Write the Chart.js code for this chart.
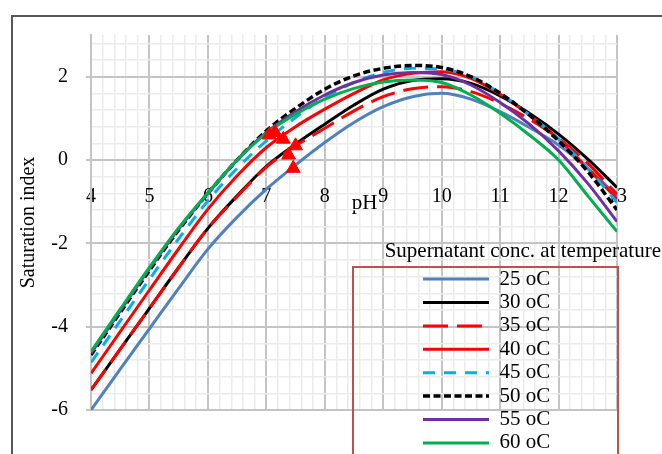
<!DOCTYPE html>
<html>
<head>
<meta charset="utf-8">
<title>Saturation index vs pH</title>
<script src="https://cdn.jsdelivr.net/npm/chart.js@4.4.1/dist/chart.umd.min.js"></script>
<style>
  html, body { margin: 0; padding: 0; background: #fff; overflow: hidden; }
  #wrap { position: relative; width: 662px; height: 454px; overflow: hidden; }
  #frame { position: absolute; left: 11px; top: 15px; width: 700px; height: 500px; border: 2.5px solid #595959; }
  #si-chart { position: absolute; left: 0; top: 0; }
</style>
</head>
<body>
<div id="wrap">
  <div id="frame"></div>
  <canvas id="si-chart" width="662" height="454"></canvas>
</div>
<script>
// pH grid the curves were evaluated on
const phValues = [4, 4.5, 5, 5.5, 6, 6.5, 7, 7.5, 8, 8.5, 9, 9.5, 10, 10.5, 11, 11.5, 12, 12.5, 13];

// saturation index of the supernatant at each temperature
const si25 = [-6.0, -5.02, -4.05, -3.08, -2.14, -1.37, -0.7, -0.12, 0.42, 0.9, 1.28, 1.52, 1.6, 1.46, 1.16, 0.78, 0.36, -0.2, -0.86];
const si30 = [-5.52, -4.54, -3.56, -2.58, -1.64, -0.86, -0.15, 0.38, 0.86, 1.32, 1.7, 1.91, 1.95, 1.84, 1.54, 1.12, 0.62, 0.02, -0.66];
const si35 = [-5.52, -4.54, -3.56, -2.58, -1.64, -0.88, -0.17, 0.34, 0.76, 1.18, 1.52, 1.71, 1.76, 1.64, 1.36, 0.98, 0.52, -0.08, -0.82];
const si40 = [-5.12, -4.12, -3.12, -2.13, -1.18, -0.38, 0.3, 0.8, 1.22, 1.6, 1.92, 2.08, 2.12, 1.96, 1.58, 1.08, 0.5, -0.2, -0.94];
const si45 = [-4.86, -3.86, -2.86, -1.89, -0.98, -0.2, 0.46, 1.02, 1.5, 1.86, 2.1, 2.2, 2.18, 2.0, 1.6, 1.08, 0.5, -0.2, -1.02];
const si50 = [-4.68, -3.66, -2.65, -1.68, -0.8, 0.0, 0.7, 1.24, 1.7, 2.02, 2.2, 2.27, 2.22, 2.0, 1.6, 1.08, 0.46, -0.28, -1.2];
const si55 = [-4.64, -3.62, -2.61, -1.65, -0.8, 0.0, 0.66, 1.16, 1.56, 1.86, 2.04, 2.1, 2.05, 1.8, 1.38, 0.86, 0.22, -0.56, -1.48];
const si60 = [-4.6, -3.58, -2.58, -1.63, -0.79, 0.0, 0.64, 1.1, 1.46, 1.72, 1.87, 1.92, 1.86, 1.56, 1.12, 0.6, 0.0, -0.86, -1.72];

const tempLabels = ["25 oC", "30 oC", "35 oC", "40 oC", "45 oC", "50 oC", "55 oC", "60 oC"];
const siSeries = [si25, si30, si35, si40, si45, si50, si55, si60];

// measured supernatant points (red triangles)
const sampledPH = [7.05, 7.15, 7.29, 7.5, 7.38, 7.46];
const sampledSI = [0.6, 0.66, 0.5, 0.34, 0.12, -0.2];

const lineStyles = [
  { color: "#4F81BD", width: 3, dash: [] },
  { color: "#000000", width: 3, dash: [] },
  { color: "#FF0000", width: 3, dash: [25, 9] },
  { color: "#FF0000", width: 3, dash: [] },
  { color: "#00B0F0", width: 3, dash: [12, 9] },
  { color: "#000000", width: 3.5, dash: [7, 3.5] },
  { color: "#7030A0", width: 3, dash: [] },
  { color: "#00B050", width: 3, dash: [] },
];

const majorGrid = "#C4C4C4";
const minorGrid = "#ECECEC";
const noColor = "rgba(0,0,0,0)";

const isMajorX = (v) => Math.abs(v - Math.round(v)) < 1e-6;
const isMajorY = (v) => Math.abs(v / 2 - Math.round(v / 2)) < 1e-6;

Chart.defaults.font.family = "'Liberation Serif', 'Times New Roman', serif";
Chart.defaults.color = "#000";

const datasets = tempLabels.map((label, i) => ({
  label: label,
  data: phValues.map((ph, j) => ({ x: ph, y: siSeries[i][j] })),
  borderColor: lineStyles[i].color,
  backgroundColor: lineStyles[i].color,
  borderWidth: lineStyles[i].width,
  borderDash: lineStyles[i].dash,
  pointRadius: 0,
  fill: false,
  cubicInterpolationMode: "monotone",
  order: tempLabels.length - i,
}));

datasets.push({
  label: "samples",
  data: sampledPH.map((ph, j) => ({ x: ph, y: sampledSI[j] })),
  showLine: false,
  pointStyle: "triangle",
  pointRadius: 8,
  backgroundColor: "#FF0000",
  borderColor: "#FF0000",
  borderWidth: 1,
  order: 0,
});

// legend entries keep the dash pattern of their line
const legendLabels = (chart) =>
  Chart.defaults.plugins.legend.labels.generateLabels(chart).map((item) => {
    const ds = chart.data.datasets[item.datasetIndex];
    item.lineDash = ds.borderDash;
    item.strokeStyle = ds.borderColor;
    item.lineWidth = ds.borderWidth;
    return item;
  });

// puts the legend over the lower right of the plot and boxes it in
const legendPlacement = {
  id: "legendPlacement",
  afterLayout(chart, args, opts) {
    const lg = chart.legend;
    lg.left = opts.left;
    lg.top = opts.top;
    lg.right = opts.right;
    lg.bottom = opts.bottom;
    lg.width = lg.right - lg.left;
    lg.height = lg.bottom - lg.top;
    // the title reaches further left than the entries, so skip the clip
    lg.draw = function () {
      if (this.options.display) this._draw();
    };
  },
  afterDraw(chart, args, opts) {
    const f = opts.frame;
    const ctx = chart.ctx;
    ctx.save();
    ctx.strokeStyle = f.color;
    ctx.lineWidth = f.width;
    ctx.strokeRect(f.left, f.top, f.right - f.left, f.bottom - f.top);
    ctx.restore();
  },
};

const siChart = new Chart(document.getElementById("si-chart"), {
  type: "line",
  data: { datasets: datasets },
  plugins: [legendPlacement],
  options: {
    responsive: false,
    animation: false,
    events: [],
    layout: { padding: { left: 14, top: 35, right: 45, bottom: 44 } },
    scales: {
      x: {
        type: "linear",
        min: 4,
        max: 13,
        position: { y: 0 },
        ticks: {
          stepSize: 0.2,
          autoSkip: false,
          maxRotation: 0,
          minRotation: 0,
          padding: 19.5,
          font: { size: 20 },
          callback: (v) => (isMajorX(v) ? String(Math.round(v)) : ""),
        },
        grid: {
          color: (c) => (isMajorX(c.tick.value) ? majorGrid : minorGrid),
          lineWidth: (c) => (isMajorX(c.tick.value) ? 2 : 1.5),
          tickLength: 5,
          tickColor: (c) => (isMajorX(c.tick.value) ? majorGrid : noColor),
        },
        border: { color: majorGrid, width: 2 },
        title: {
          display: true,
          text: "    pH",
          font: { size: 21 },
          padding: { top: -37, bottom: 0 },
        },
      },
      y: {
        type: "linear",
        min: -6,
        max: 3,
        ticks: {
          stepSize: 0.4,
          includeBounds: false,
          autoSkip: false,
          padding: 18,
          font: { size: 20 },
          callback: (v) => (isMajorY(v) ? String(Math.round(v)) : ""),
        },
        grid: {
          color: (c) => (isMajorY(c.tick.value) ? majorGrid : minorGrid),
          lineWidth: (c) => (isMajorY(c.tick.value) ? 2 : 1.5),
          tickLength: 5,
          tickColor: (c) => (isMajorY(c.tick.value) ? majorGrid : noColor),
        },
        border: { color: majorGrid, width: 2 },
        title: {
          display: true,
          text: "Saturation index",
          font: { size: 20 },
          padding: { top: 3, bottom: 0 },
        },
        afterFit: (scale) => {
          scale.width = 77;
        },
      },
    },
    plugins: {
      tooltip: { enabled: false },
      legend: {
        position: "chartArea",
        align: "start",
        title: {
          display: true,
          text: "Supernatant conc. at temperature",
          position: "end",
          font: { size: 21 },
          padding: 0,
        },
        labels: {
          usePointStyle: true,
          pointStyle: "line",
          pointStyleWidth: 66,
          boxHeight: 12,
          padding: 2.4,
          font: { size: 21 },
          generateLabels: legendLabels,
          filter: (item) => item.datasetIndex < tempLabels.length,
          sort: (a, b) => a.datasetIndex - b.datasetIndex,
        },
      },
      legendPlacement: {
        left: 420.6,
        top: 241,
        right: 661,
        bottom: 470,
        frame: { left: 353, top: 267, right: 618, bottom: 480, color: "#C0504D", width: 2 },
      },
    },
  },
});
</script>
</body>
</html>
